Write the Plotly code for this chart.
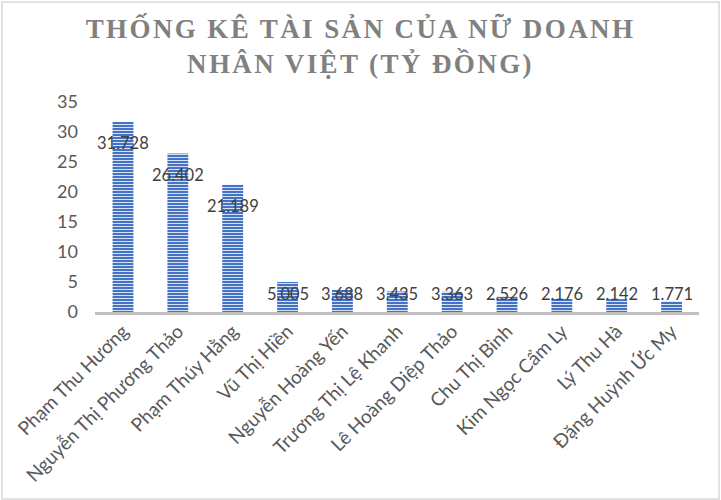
import plotly.graph_objects as go

categories = ["Phạm Thu Hương", "Nguyễn Thị Phương Thảo", "Phạm Thúy Hằng", "Vũ Thị Hiền",
              "Nguyễn Hoàng Yến", "Trương Thị Lệ Khanh", "Lê Hoàng Diệp Thảo", "Chu Thị Bình",
              "Kim Ngọc Cẩm Ly", "Lý Thu Hà", "Đặng Huỳnh Ức My"]
values = [31.728, 26.402, 21.189, 5.005, 3.688, 3.435, 3.363, 2.526, 2.176, 2.142, 1.771]
labels = ["31.728", "26.402", "21.189", "5.005", "3.688", "3.435", "3.363", "2.526", "2.176", "2.142", "1.771"]
y_ticks = [0, 5, 10, 15, 20, 25, 30, 35]
title_text = "THỐNG KÊ TÀI SẢN CỦA NỮ DOANH<br>NHÂN VIỆT (TỶ ĐỒNG)"

W, H = 721, 500
ML, MR, MT, MB = 95, 22, 102, 188
YMAX = 35
px_per_unit = (H - MT - MB) / YMAX

fig = go.Figure()
fig.add_trace(go.Bar(
    x=categories, y=values,
    marker=dict(color="#4472C4",
                line=dict(width=0),
                pattern=dict(shape="-", fgcolor="#D9E2F3", bgcolor="#4472C4",
                             size=3, solidity=0.35, fillmode="replace")),
    hoverinfo="skip",
))

# data labels: ~21px below bar top, but not lower than 18px above axis
for c, v, t in zip(categories, values, labels):
    ypos = max(v - 21 / px_per_unit, 18 / px_per_unit)
    fig.add_annotation(x=c, y=ypos, text=t, showarrow=False, yanchor="middle",
                       font=dict(family="Lato, Open Sans, sans-serif", size=16.5, color="#404040"))

# chart border
pw = W - ML - MR
ph = H - MT - MB
fig.add_shape(type="rect", xref="paper", yref="paper",
              x0=(2 - ML) / pw, x1=(719 - ML) / pw,
              y0=(H - 499 - MB) / ph, y1=(H - 2 - MB) / ph,
              line=dict(color="#D9D9D9", width=1.5), fillcolor="rgba(0,0,0,0)", layer="below")

fig.update_layout(
    width=W, height=H,
    margin=dict(l=ML, r=MR, t=MT, b=MB, autoexpand=False),
    paper_bgcolor="white", plot_bgcolor="white",
    bargap=0.62,
    showlegend=False,
    title=dict(text=title_text, x=0.5, xref="container", xanchor="center",
               y=1 - 38 / H, yanchor="middle",
               font=dict(family="Liberation Serif, Times New Roman, serif", size=27,
                         color="#808080", weight="bold")),
    xaxis=dict(showline=True, linecolor="#BFBFBF", linewidth=2.5, showgrid=False,
               tickangle=-45, ticks="", ticklabelstandoff=-2, automargin=False,
               tickfont=dict(family="Lato, Open Sans, sans-serif", size=19, color="#595959")),
    yaxis=dict(range=[0, YMAX], tickvals=y_ticks, showgrid=False, zeroline=False,
               showline=False, ticks="", ticklabelstandoff=16, automargin=False,
               tickfont=dict(family="Lato, Open Sans, sans-serif", size=18, color="#595959")),
)

post = """
document.body.style.margin='0';
document.querySelectorAll('.gtitle').forEach(function(e){e.style.letterSpacing='2.4px';});
"""
fig.write_html("out.html", post_script=post, config={"displayModeBar": False})
